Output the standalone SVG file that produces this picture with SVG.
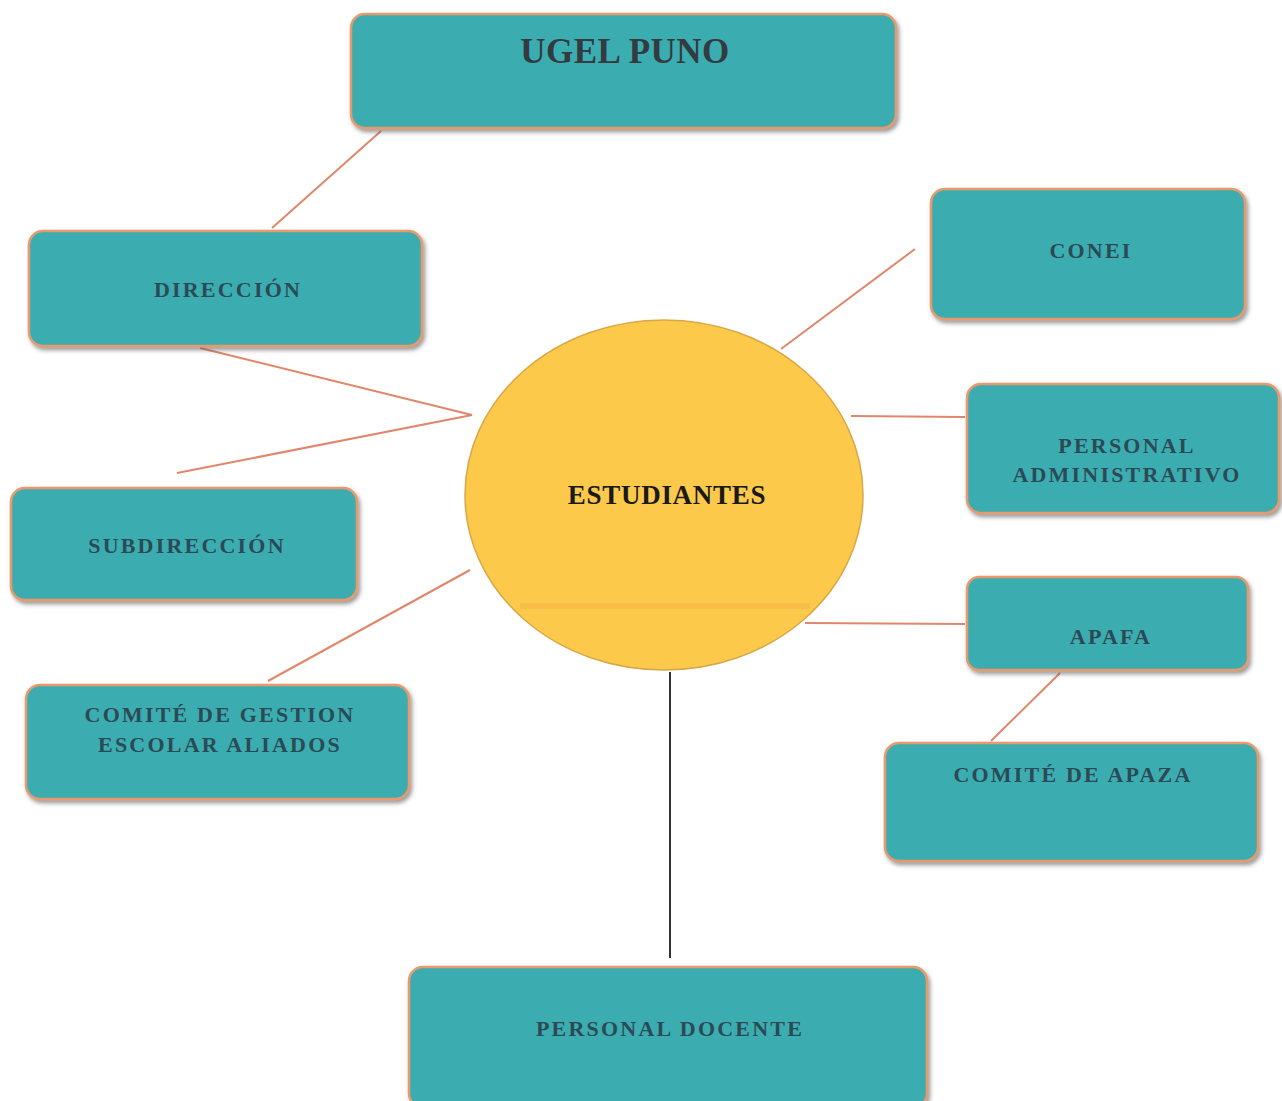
<svg xmlns="http://www.w3.org/2000/svg" width="1282" height="1101" viewBox="0 0 1282 1101">
<defs>
<filter id="sh" x="-10%" y="-10%" width="120%" height="130%">
<feDropShadow dx="2" dy="3" stdDeviation="2" flood-color="#555" flood-opacity="0.6"/>
</filter>
</defs>
<style>
.box{fill:#3aadb0;stroke:#e89a6c;stroke-width:2.5;filter:url(#sh)}
.lbl{font-family:"Liberation Serif",serif;font-weight:bold;font-size:22px;fill:#2c4a55;text-anchor:middle;letter-spacing:2.2px}
.ln{stroke:#e0866a;stroke-width:2;fill:none}
</style>
<rect width="1282" height="1101" fill="#ffffff"/>
<g id="connectors">
<line class="ln" x1="381" y1="131" x2="272" y2="228"/>
<line class="ln" x1="200" y1="348" x2="472" y2="415"/>
<line class="ln" x1="177" y1="473" x2="472" y2="415"/>
<line class="ln" x1="268" y1="681" x2="470" y2="570"/>
<line class="ln" x1="915" y1="249" x2="781" y2="349"/>
<line class="ln" x1="851" y1="416" x2="965" y2="417"/>
<line class="ln" x1="805" y1="623" x2="965" y2="624"/>
<line class="ln" x1="1060" y1="673" x2="991" y2="741"/>
<line x1="670" y1="672" x2="670" y2="958" stroke="#333" stroke-width="2"/>
</g>
<g id="estudiantes">
<ellipse cx="664" cy="495" rx="199" ry="175" fill="#fcc94a" stroke="#d8a848" stroke-width="1.5"/>
<rect x="520" y="603" width="290" height="6" fill="#f8b84a" opacity="0.7"/>
<text x="667" y="504" font-family="Liberation Serif,serif" font-weight="bold" font-size="27" fill="#1a1a1a" text-anchor="middle" letter-spacing="0.7">ESTUDIANTES</text>
</g>
<g id="ugel">
<rect class="box" x="351" y="14" width="545" height="114" rx="14"/>
<text class="lbl" x="625" y="63" style="font-size:35px;letter-spacing:0.5px;fill:#333a40">UGEL PUNO</text>
</g>
<g id="direccion">
<rect class="box" x="29" y="231" width="393" height="115" rx="14"/>
<text class="lbl" x="228" y="297">DIRECCIÓN</text>
</g>
<g id="subdireccion">
<rect class="box" x="11" y="488" width="346" height="112" rx="14"/>
<text class="lbl" x="187" y="553">SUBDIRECCIÓN</text>
</g>
<g id="comite-gestion">
<rect class="box" x="26" y="685" width="383" height="114" rx="14"/>
<text class="lbl" x="220" y="722">COMITÉ DE GESTION</text>
<text class="lbl" x="220" y="752">ESCOLAR ALIADOS</text>
</g>
<g id="conei">
<rect class="box" x="931" y="189" width="314" height="130" rx="14"/>
<text class="lbl" x="1091" y="258">CONEI</text>
</g>
<g id="personal-admin">
<rect class="box" x="967" y="384" width="312" height="129" rx="14"/>
<text class="lbl" x="1127" y="453">PERSONAL</text>
<text class="lbl" x="1127" y="482">ADMINISTRATIVO</text>
</g>
<g id="apafa">
<rect class="box" x="967" y="577" width="281" height="93" rx="12"/>
<text class="lbl" x="1111" y="644">APAFA</text>
</g>
<g id="comite-apaza">
<rect class="box" x="885" y="743" width="373" height="118" rx="14"/>
<text class="lbl" x="1073" y="782">COMITÉ DE APAZA</text>
</g>
<g id="personal-docente">
<rect class="box" x="409" y="967" width="518" height="140" rx="14"/>
<text class="lbl" x="670" y="1036">PERSONAL DOCENTE</text>
</g>
</svg>
